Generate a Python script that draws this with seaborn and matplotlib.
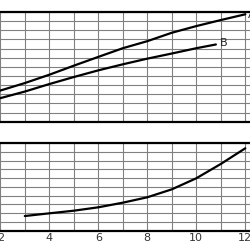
import matplotlib
matplotlib.use("Agg")
import matplotlib.pyplot as plt
import seaborn as sns
import pandas as pd

# Data
x_top = [2, 3, 4, 5, 6, 7, 8, 9, 10, 11, 12]
a_vals = [3.41, 4.23, 5.14, 6.13, 7.09, 8.04, 8.81, 9.73, 10.46, 11.12, 11.75]
x_b = [2, 3, 4, 5, 6, 7, 8, 9, 10, 10.8]
b_vals = [2.58, 3.30, 4.12, 4.89, 5.62, 6.28, 6.90, 7.46, 8.04, 8.45]
x_bot = [3, 4, 5, 6, 7, 8, 9, 10, 11, 12]
c_vals = [1.66, 1.97, 2.27, 2.66, 3.19, 3.81, 4.72, 5.99, 7.63, 9.43]
xticks = [2, 4, 6, 8, 10, 12]
labels = ["A", "B"]

sns.set_theme(style="white")
plt.rcParams['font.family'] = ['DejaVu Sans']

fig = plt.figure(figsize=(2.5, 2.5), dpi=100)
left = -24.2 / 250
width = 294 / 250
ax1 = fig.add_axes([left, 0.513, width, 0.952 - 0.513])
ax2 = fig.add_axes([left, 0.078, width, 0.4268 - 0.078])

dfa = pd.DataFrame({"x": x_top, "y": a_vals})
dfb = pd.DataFrame({"x": x_b, "y": b_vals})
dfc = pd.DataFrame({"x": x_bot, "y": c_vals})

sns.lineplot(data=dfa, x="x", y="y", ax=ax1, color="black", lw=1.6)
sns.lineplot(data=dfb, x="x", y="y", ax=ax1, color="black", lw=1.6)
sns.lineplot(data=dfc, x="x", y="y", ax=ax2, color="black", lw=1.6)

ax1.text(x_top[-1] + 0.12, a_vals[-1] - 0.05, labels[0], fontsize=8, va="center", ha="left", color="#222222")
ax1.text(x_b[-1] + 0.18, b_vals[-1] + 0.15, labels[1], fontsize=8, va="center", ha="left", color="#222222")

for ax, ymax in ((ax1, 12), (ax2, 10)):
    ax.set_xlim(1, 13)
    ax.set_ylim(0, ymax)
    ax.set_xticks(range(1, 14))
    ax.set_yticks(range(0, ymax + 1))
    ax.grid(True, color="#808080", lw=0.8)
    ax.set_axisbelow(True)
    ax.set_xlabel("")
    ax.set_ylabel("")
    ax.tick_params(length=0)
    ax.set_yticklabels([])
    for s in ("top", "bottom"):
        ax.spines[s].set_linewidth(1.6)
        ax.spines[s].set_color("black")
    for s in ("left", "right"):
        ax.spines[s].set_visible(False)

ax1.set_xticklabels([])
ax2.set_xticks(range(1, 14))
ax2.set_xticklabels([str(v) if v in xticks else "" for v in range(1, 14)], fontsize=8, color="#333333")
ax2.tick_params(axis="x", pad=2)

fig.savefig("out.png", dpi=100)
